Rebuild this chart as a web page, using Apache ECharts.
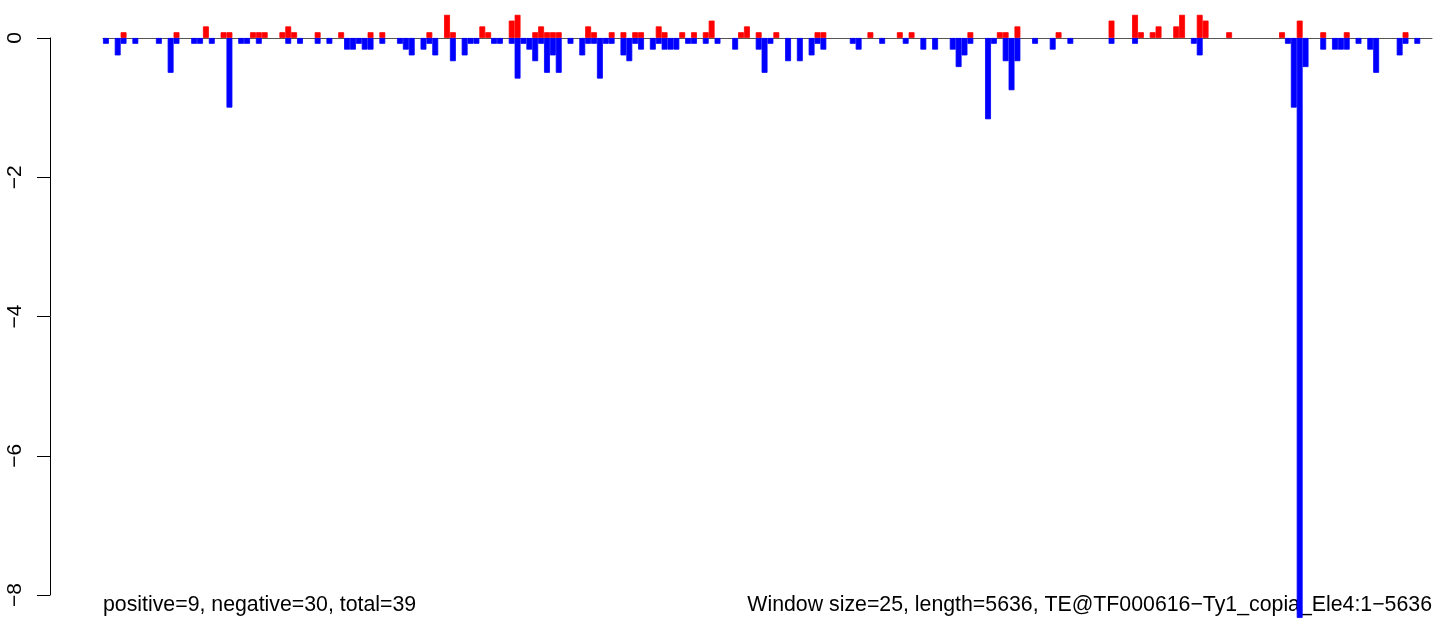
<!DOCTYPE html>
<html>
<head>
<meta charset="utf-8">
<script src="https://cdn.jsdelivr.net/npm/echarts@6/dist/echarts.min.js"></script>
<style>
html,body{margin:0;padding:0;background:#fff;}
#chart{width:1444px;height:624px;}
</style>
</head>
<body>
<div id="chart"></div>
<script>
// Window size 25 over length 5636 -> 226 windows
const windowSize = 25;
const seqLength = 5636;
const windowCount = 226;

// Positive scores per window (red)
const positiveValues = [
  0,0,0,0.083,0,0,0,0,0,0,
  0,0,0.083,0,0,0,0,0.167,0,0,
  0.083,0.083,0,0,0,0.083,0.083,0.083,0,0,
  0.083,0.167,0.083,0,0,0,0.083,0,0,0,
  0.083,0,0,0,0,0.083,0,0.083,0,0,
  0,0,0,0,0,0.083,0,0,0.333,0.083,
  0,0,0,0,0.167,0.083,0,0,0,0.25,
  0.333,0,0,0.083,0.167,0.083,0.083,0.083,0,0,
  0,0,0.167,0.083,0,0,0.083,0,0.083,0,
  0.083,0.083,0,0,0.167,0.083,0,0,0.083,0,
  0.083,0,0.083,0.25,0,0,0,0,0.083,0.167,
  0,0.083,0,0,0.083,0,0,0,0,0,
  0,0.083,0.083,0,0,0,0,0,0,0,
  0.083,0,0,0,0,0.083,0,0.083,0,0,
  0,0,0,0,0,0,0,0.083,0,0,
  0,0,0.083,0.083,0,0.167,0,0,0,0,
  0,0,0.083,0,0,0,0,0,0,0,
  0,0.25,0,0,0,0.333,0.083,0,0.083,0.167,
  0,0,0.167,0.333,0,0,0.333,0.25,0,0,
  0,0.083,0,0,0,0,0,0,0,0,
  0.083,0,0,0.25,0,0,0,0.083,0,0,
  0,0.083,0,0,0,0,0,0,0,0,
  0,0.083,0,0,0,0
];

// Negative scores per window (blue)
const negativeValues = [
  -0.083,0,-0.25,-0.083,0,-0.083,0,0,0,-0.083,
  0,-0.5,-0.083,0,0,-0.083,-0.083,0,-0.083,0,
  0,-1,0,-0.083,-0.083,0,-0.083,0,0,0,
  0,-0.083,0,-0.083,0,0,-0.083,0,-0.083,0,
  0,-0.167,-0.167,-0.083,-0.167,-0.167,0,-0.083,0,0,
  -0.083,-0.167,-0.25,0,-0.167,-0.083,-0.25,0,0,-0.333,
  0,-0.25,-0.083,-0.083,0,0,-0.083,-0.083,0,-0.083,
  -0.583,-0.083,-0.167,-0.333,-0.083,-0.5,-0.25,-0.5,0,-0.083,
  0,-0.25,-0.083,-0.083,-0.583,-0.083,-0.083,0,-0.25,-0.333,
  -0.083,-0.167,0,-0.167,-0.083,-0.167,-0.167,-0.167,0,-0.083,
  -0.083,0,-0.083,0,-0.083,0,0,-0.167,0,0,
  0,-0.167,-0.5,-0.083,0,0,-0.333,0,-0.333,0,
  -0.25,-0.083,-0.167,0,0,0,0,-0.083,-0.167,0,
  0,0,-0.083,0,0,0,-0.083,0,0,-0.167,
  0,-0.167,0,0,-0.167,-0.417,-0.25,-0.083,0,0,
  -1.167,-0.083,0,-0.333,-0.75,-0.333,0,0,-0.083,0,
  0,-0.167,0,0,-0.083,0,0,0,0,0,
  0,-0.083,0,0,0,-0.083,0,0,0,0,
  0,0,0,0,0,-0.083,-0.25,0,0,0,
  0,0,0,0,0,0,0,0,0,0,
  0,-0.083,-1,-8.33,-0.417,0,0,-0.167,0,-0.167,
  -0.167,-0.167,0,-0.083,0,-0.167,-0.5,0,0,0,
  -0.25,-0.083,0,-0.083,0,0
];

const yTicks = [0, -2, -4, -6, -8];
const leftNote = 'positive=9, negative=30, total=39';
const rightNote = 'Window size=25, length=5636, TE@TF000616\u2212Ty1_copia_Ele4:1\u22125636';

const categories = [];
for (let i = 0; i < windowCount; i++) categories.push(String(1 + i * windowSize));

// empty windows draw nothing
const toBars = arr => arr.map(v => (v === 0 ? '-' : v));

const FONT = '"Liberation Sans", Arial, Helvetica, sans-serif';
const chart = echarts.init(document.getElementById('chart'), null, {renderer: 'canvas'});
chart.setOption({
  animation: false,
  backgroundColor: '#ffffff',
  grid: {left: 103, right: 12, top: 38, bottom: 29, containLabel: false},
  xAxis: {
    type: 'category',
    data: categories,
    axisLine: {show: true, onZero: true, lineStyle: {color: '#555555', width: 1}},
    axisTick: {show: false},
    axisLabel: {show: false},
    splitLine: {show: false}
  },
  yAxis: {
    type: 'value',
    min: yTicks[yTicks.length - 1],
    max: yTicks[0],
    interval: 2,
    offset: 53,
    axisLine: {show: true, lineStyle: {color: '#000', width: 1}},
    axisTick: {show: true, length: 13, lineStyle: {color: '#000', width: 1}},
    axisLabel: {
      show: true, rotate: 90, margin: 24, color: '#000', fontSize: 21, fontFamily: FONT,
      formatter: v => String(v).replace('-', '\u2212')
    },
    splitLine: {show: false}
  },
  series: [
    {
      name: 'positive', type: 'bar', data: toBars(positiveValues),
      barCategoryGap: '0%', barGap: '-100%', clip: false,
      itemStyle: {color: '#FF0000', borderColor: '#FF0000', borderWidth: 0.8}
    },
    {
      name: 'negative', type: 'bar', data: toBars(negativeValues),
      barCategoryGap: '0%', barGap: '-100%', clip: false,
      itemStyle: {color: '#0000FF', borderColor: '#0000FF', borderWidth: 0.8}
    }
  ],
  graphic: [
    {type: 'text', left: 103, top: 595, style: {text: leftNote, fontSize: 21.3, fontFamily: FONT, fill: '#000'}},
    {type: 'text', right: 12, top: 595, style: {text: rightNote, fontSize: 21.3, fontFamily: FONT, fill: '#000'}}
  ]
});
</script>
</body>
</html>
